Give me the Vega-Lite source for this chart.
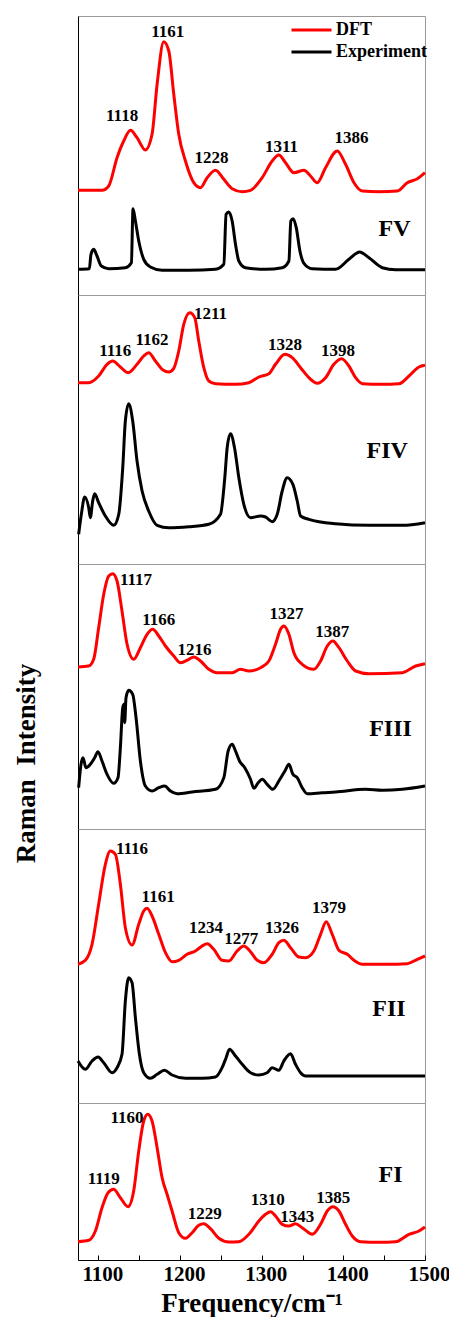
{
  "$schema": "https://vega.github.io/schema/vega-lite/v6.json",
  "background": "white",
  "padding": {"left": 11, "top": 15, "right": 0, "bottom": 0},
  "autosize": {"type": "pad"},
  "spacing": 0,
  "bounds": "flush",
  "config": {
    "view": {"stroke": "#9a9a9a", "strokeWidth": 1},
    "font": "Liberation Serif",
    "axis": {"grid": false}
  },
  "resolve": {"legend": {"color": "independent"}},
  "datasets": {
    "curves": [
      {"panel":"FV","series":"DFT","freq":1075,"intensity":104.7},{"panel":"FV","series":"DFT","freq":1104.4,"intensity":104.7},{"panel":"FV","series":"DFT","freq":1112.6,"intensity":109},{"panel":"FV","series":"DFT","freq":1122.8,"intensity":137.3},{"panel":"FV","series":"DFT","freq":1131,"intensity":154},{"panel":"FV","series":"DFT","freq":1139.2,"intensity":164.7},{"panel":"FV","series":"DFT","freq":1147.3,"intensity":157.3},{"panel":"FV","series":"DFT","freq":1157.5,"intensity":145},{"panel":"FV","series":"DFT","freq":1165.7,"intensity":160.7},{"panel":"FV","series":"DFT","freq":1171.9,"intensity":210.7},{"panel":"FV","series":"DFT","freq":1180,"intensity":253.3},{"panel":"FV","series":"DFT","freq":1186.2,"intensity":244},{"panel":"FV","series":"DFT","freq":1192.3,"intensity":200.7},{"panel":"FV","series":"DFT","freq":1198.4,"intensity":160.7},{"panel":"FV","series":"DFT","freq":1206.6,"intensity":134},{"panel":"FV","series":"DFT","freq":1216.8,"intensity":112.3},{"panel":"FV","series":"DFT","freq":1225,"intensity":107.3},{"panel":"FV","series":"DFT","freq":1233.2,"intensity":117.3},{"panel":"FV","series":"DFT","freq":1243.4,"intensity":124.7},{"panel":"FV","series":"DFT","freq":1253.6,"intensity":115.7},{"panel":"FV","series":"DFT","freq":1263.8,"intensity":106.3},{"panel":"FV","series":"DFT","freq":1276.1,"intensity":103.3},{"panel":"FV","series":"DFT","freq":1286.3,"intensity":104.7},{"panel":"FV","series":"DFT","freq":1300.6,"intensity":117.3},{"panel":"FV","series":"DFT","freq":1312.8,"intensity":134},{"panel":"FV","series":"DFT","freq":1321,"intensity":140},{"panel":"FV","series":"DFT","freq":1329.2,"intensity":132.3},{"panel":"FV","series":"DFT","freq":1339.4,"intensity":122.3},{"panel":"FV","series":"DFT","freq":1351.7,"intensity":124.7},{"panel":"FV","series":"DFT","freq":1359.8,"intensity":119},{"panel":"FV","series":"DFT","freq":1368,"intensity":112.3},{"panel":"FV","series":"DFT","freq":1378.2,"intensity":127.3},{"panel":"FV","series":"DFT","freq":1392.5,"intensity":144},{"panel":"FV","series":"DFT","freq":1402.7,"intensity":130.7},{"panel":"FV","series":"DFT","freq":1413,"intensity":112.3},{"panel":"FV","series":"DFT","freq":1423.2,"intensity":104},{"panel":"FV","series":"DFT","freq":1443.6,"intensity":103.3},{"panel":"FV","series":"DFT","freq":1466.1,"intensity":104},{"panel":"FV","series":"DFT","freq":1478.3,"intensity":112.3},{"panel":"FV","series":"DFT","freq":1490.6,"intensity":116.3},{"panel":"FV","series":"DFT","freq":1500,"intensity":122.3},
      {"panel":"FV","series":"Experiment","freq":1075,"intensity":25.7},{"panel":"FV","series":"Experiment","freq":1088.9,"intensity":26.3},{"panel":"FV","series":"Experiment","freq":1090.9,"intensity":40.7},{"panel":"FV","series":"Experiment","freq":1094.2,"intensity":45.7},{"panel":"FV","series":"Experiment","freq":1098.3,"intensity":39},{"panel":"FV","series":"Experiment","freq":1103.6,"intensity":29},{"panel":"FV","series":"Experiment","freq":1112.6,"intensity":26.3},{"panel":"FV","series":"Experiment","freq":1133,"intensity":27.3},{"panel":"FV","series":"Experiment","freq":1140.4,"intensity":32.3},{"panel":"FV","series":"Experiment","freq":1142.4,"intensity":86.3},{"panel":"FV","series":"Experiment","freq":1145.3,"intensity":74},{"panel":"FV","series":"Experiment","freq":1149.4,"intensity":54},{"panel":"FV","series":"Experiment","freq":1155.5,"intensity":35.7},{"panel":"FV","series":"Experiment","freq":1163.7,"intensity":28},{"panel":"FV","series":"Experiment","freq":1178,"intensity":24.7},{"panel":"FV","series":"Experiment","freq":1210.7,"intensity":24.7},{"panel":"FV","series":"Experiment","freq":1243.4,"intensity":25.7},{"panel":"FV","series":"Experiment","freq":1253.6,"intensity":30.7},{"panel":"FV","series":"Experiment","freq":1256.4,"intensity":80.7},{"panel":"FV","series":"Experiment","freq":1259.7,"intensity":83},{"panel":"FV","series":"Experiment","freq":1263.8,"intensity":74},{"panel":"FV","series":"Experiment","freq":1267.9,"intensity":50.7},{"panel":"FV","series":"Experiment","freq":1272,"intensity":34},{"panel":"FV","series":"Experiment","freq":1280.1,"intensity":27.3},{"panel":"FV","series":"Experiment","freq":1304.7,"intensity":25.7},{"panel":"FV","series":"Experiment","freq":1325.1,"intensity":27.3},{"panel":"FV","series":"Experiment","freq":1333.3,"intensity":34},{"panel":"FV","series":"Experiment","freq":1335.7,"intensity":74},{"panel":"FV","series":"Experiment","freq":1338.6,"intensity":76.3},{"panel":"FV","series":"Experiment","freq":1342.3,"intensity":67.3},{"panel":"FV","series":"Experiment","freq":1346.8,"intensity":44},{"panel":"FV","series":"Experiment","freq":1351.7,"intensity":31.7},{"panel":"FV","series":"Experiment","freq":1361.9,"intensity":26.3},{"panel":"FV","series":"Experiment","freq":1390.5,"intensity":25.7},{"panel":"FV","series":"Experiment","freq":1406.8,"intensity":35.7},{"panel":"FV","series":"Experiment","freq":1419.9,"intensity":43},{"panel":"FV","series":"Experiment","freq":1431.4,"intensity":37.3},{"panel":"FV","series":"Experiment","freq":1447.7,"intensity":27.3},{"panel":"FV","series":"Experiment","freq":1464,"intensity":25.3},{"panel":"FV","series":"Experiment","freq":1500,"intensity":25.3},
      {"panel":"FIV","series":"DFT","freq":1075,"intensity":181.3},{"panel":"FIV","series":"DFT","freq":1088.1,"intensity":181.3},{"panel":"FIV","series":"DFT","freq":1100.3,"intensity":188},{"panel":"FIV","series":"DFT","freq":1110.6,"intensity":199.7},{"panel":"FIV","series":"DFT","freq":1117.5,"intensity":203},{"panel":"FIV","series":"DFT","freq":1126.9,"intensity":197},{"panel":"FIV","series":"DFT","freq":1136.3,"intensity":191.3},{"panel":"FIV","series":"DFT","freq":1147.3,"intensity":199.7},{"panel":"FIV","series":"DFT","freq":1155.5,"intensity":208},{"panel":"FIV","series":"DFT","freq":1161.6,"intensity":211.3},{"panel":"FIV","series":"DFT","freq":1169.8,"intensity":203},{"panel":"FIV","series":"DFT","freq":1178,"intensity":194.7},{"panel":"FIV","series":"DFT","freq":1186.2,"intensity":192},{"panel":"FIV","series":"DFT","freq":1192.3,"intensity":195.7},{"panel":"FIV","series":"DFT","freq":1198.4,"intensity":213},{"panel":"FIV","series":"DFT","freq":1204.5,"intensity":239.7},{"panel":"FIV","series":"DFT","freq":1211.9,"intensity":251.3},{"panel":"FIV","series":"DFT","freq":1218,"intensity":246.3},{"panel":"FIV","series":"DFT","freq":1222.9,"intensity":223},{"panel":"FIV","series":"DFT","freq":1229.1,"intensity":196.3},{"panel":"FIV","series":"DFT","freq":1235.2,"intensity":183},{"panel":"FIV","series":"DFT","freq":1243.4,"intensity":180.3},{"panel":"FIV","series":"DFT","freq":1267.9,"intensity":179.7},{"panel":"FIV","series":"DFT","freq":1284.2,"intensity":181.3},{"panel":"FIV","series":"DFT","freq":1296.5,"intensity":187},{"panel":"FIV","series":"DFT","freq":1308.8,"intensity":190.3},{"panel":"FIV","series":"DFT","freq":1316.9,"intensity":199.7},{"panel":"FIV","series":"DFT","freq":1328.4,"intensity":209.7},{"panel":"FIV","series":"DFT","freq":1337.4,"intensity":206.3},{"panel":"FIV","series":"DFT","freq":1347.6,"intensity":196.3},{"panel":"FIV","series":"DFT","freq":1357.8,"intensity":186.3},{"panel":"FIV","series":"DFT","freq":1368,"intensity":180.7},{"panel":"FIV","series":"DFT","freq":1378.2,"intensity":186.3},{"panel":"FIV","series":"DFT","freq":1388.4,"intensity":199.7},{"panel":"FIV","series":"DFT","freq":1397.8,"intensity":205.3},{"panel":"FIV","series":"DFT","freq":1406.8,"intensity":198},{"panel":"FIV","series":"DFT","freq":1415,"intensity":186.3},{"panel":"FIV","series":"DFT","freq":1423.2,"intensity":180.3},{"panel":"FIV","series":"DFT","freq":1447.7,"intensity":179.7},{"panel":"FIV","series":"DFT","freq":1468.1,"intensity":180.3},{"panel":"FIV","series":"DFT","freq":1480.4,"intensity":188},{"panel":"FIV","series":"DFT","freq":1492.6,"intensity":197},{"panel":"FIV","series":"DFT","freq":1500,"intensity":198.7},
      {"panel":"FIV","series":"Experiment","freq":1075.8,"intensity":29.7},{"panel":"FIV","series":"Experiment","freq":1079.1,"intensity":49.7},{"panel":"FIV","series":"Experiment","freq":1083.2,"intensity":67},{"panel":"FIV","series":"Experiment","freq":1088.1,"intensity":56.3},{"panel":"FIV","series":"Experiment","freq":1090.1,"intensity":46.3},{"panel":"FIV","series":"Experiment","freq":1093,"intensity":63},{"panel":"FIV","series":"Experiment","freq":1095.4,"intensity":70.3},{"panel":"FIV","series":"Experiment","freq":1100.3,"intensity":61.3},{"panel":"FIV","series":"Experiment","freq":1108.5,"intensity":48},{"panel":"FIV","series":"Experiment","freq":1118.7,"intensity":38.7},{"panel":"FIV","series":"Experiment","freq":1124.9,"intensity":49.7},{"panel":"FIV","series":"Experiment","freq":1129.8,"intensity":96.3},{"panel":"FIV","series":"Experiment","freq":1133,"intensity":143},{"panel":"FIV","series":"Experiment","freq":1137.1,"intensity":160.3},{"panel":"FIV","series":"Experiment","freq":1142,"intensity":143},{"panel":"FIV","series":"Experiment","freq":1147.3,"intensity":103},{"panel":"FIV","series":"Experiment","freq":1153.5,"intensity":73},{"panel":"FIV","series":"Experiment","freq":1161.6,"intensity":53},{"panel":"FIV","series":"Experiment","freq":1171.9,"intensity":38.7},{"panel":"FIV","series":"Experiment","freq":1186.2,"intensity":36.3},{"panel":"FIV","series":"Experiment","freq":1210.7,"intensity":37.3},{"panel":"FIV","series":"Experiment","freq":1235.2,"intensity":39.7},{"panel":"FIV","series":"Experiment","freq":1249.5,"intensity":49.7},{"panel":"FIV","series":"Experiment","freq":1254.8,"intensity":86.3},{"panel":"FIV","series":"Experiment","freq":1257.7,"intensity":116.3},{"panel":"FIV","series":"Experiment","freq":1261.8,"intensity":130.3},{"panel":"FIV","series":"Experiment","freq":1266.7,"intensity":116.3},{"panel":"FIV","series":"Experiment","freq":1272,"intensity":86.3},{"panel":"FIV","series":"Experiment","freq":1278.1,"intensity":59.7},{"panel":"FIV","series":"Experiment","freq":1286.3,"intensity":46.3},{"panel":"FIV","series":"Experiment","freq":1298.5,"intensity":48},{"panel":"FIV","series":"Experiment","freq":1304.7,"intensity":47},{"panel":"FIV","series":"Experiment","freq":1312.8,"intensity":42.3},{"panel":"FIV","series":"Experiment","freq":1319,"intensity":49.7},{"panel":"FIV","series":"Experiment","freq":1325.1,"intensity":73},{"panel":"FIV","series":"Experiment","freq":1331.2,"intensity":86.3},{"panel":"FIV","series":"Experiment","freq":1338.2,"intensity":79.7},{"panel":"FIV","series":"Experiment","freq":1343.5,"intensity":63},{"panel":"FIV","series":"Experiment","freq":1347.6,"intensity":48},{"panel":"FIV","series":"Experiment","freq":1357.8,"intensity":44.7},{"panel":"FIV","series":"Experiment","freq":1390.5,"intensity":40.3},{"panel":"FIV","series":"Experiment","freq":1431.4,"intensity":38.7},{"panel":"FIV","series":"Experiment","freq":1472.2,"intensity":38.7},{"panel":"FIV","series":"Experiment","freq":1500,"intensity":41.3},
      {"panel":"FIII","series":"DFT","freq":1075,"intensity":162},{"panel":"FIII","series":"DFT","freq":1088.1,"intensity":163},{"panel":"FIII","series":"DFT","freq":1094.2,"intensity":169.7},{"panel":"FIII","series":"DFT","freq":1100.3,"intensity":201.3},{"panel":"FIII","series":"DFT","freq":1106.5,"intensity":234.7},{"panel":"FIII","series":"DFT","freq":1112.6,"intensity":253},{"panel":"FIII","series":"DFT","freq":1117.5,"intensity":255.3},{"panel":"FIII","series":"DFT","freq":1122.8,"intensity":248},{"panel":"FIII","series":"DFT","freq":1128.9,"intensity":218},{"panel":"FIII","series":"DFT","freq":1135.1,"intensity":184.7},{"panel":"FIII","series":"DFT","freq":1143.2,"intensity":169.7},{"panel":"FIII","series":"DFT","freq":1151.4,"intensity":181.3},{"panel":"FIII","series":"DFT","freq":1159.6,"intensity":194.7},{"panel":"FIII","series":"DFT","freq":1166.5,"intensity":199.7},{"panel":"FIII","series":"DFT","freq":1173.9,"intensity":193},{"panel":"FIII","series":"DFT","freq":1182.1,"intensity":183},{"panel":"FIII","series":"DFT","freq":1192.3,"intensity":173},{"panel":"FIII","series":"DFT","freq":1200.5,"intensity":166.3},{"panel":"FIII","series":"DFT","freq":1210.7,"intensity":169.7},{"panel":"FIII","series":"DFT","freq":1216.8,"intensity":172},{"panel":"FIII","series":"DFT","freq":1225,"intensity":168},{"panel":"FIII","series":"DFT","freq":1235.2,"intensity":159.7},{"panel":"FIII","series":"DFT","freq":1245.4,"intensity":156.3},{"panel":"FIII","series":"DFT","freq":1263.8,"intensity":156.3},{"panel":"FIII","series":"DFT","freq":1274,"intensity":159.7},{"panel":"FIII","series":"DFT","freq":1284.2,"intensity":158},{"panel":"FIII","series":"DFT","freq":1298.5,"intensity":161.3},{"panel":"FIII","series":"DFT","freq":1308.8,"intensity":168},{"panel":"FIII","series":"DFT","freq":1316.9,"intensity":184.7},{"panel":"FIII","series":"DFT","freq":1323.1,"intensity":199.7},{"panel":"FIII","series":"DFT","freq":1327.1,"intensity":203},{"panel":"FIII","series":"DFT","freq":1333.3,"intensity":194.7},{"panel":"FIII","series":"DFT","freq":1339.4,"intensity":176.3},{"panel":"FIII","series":"DFT","freq":1349.6,"intensity":164.7},{"panel":"FIII","series":"DFT","freq":1363.9,"intensity":159.7},{"panel":"FIII","series":"DFT","freq":1372.1,"intensity":168},{"panel":"FIII","series":"DFT","freq":1380.3,"intensity":183},{"panel":"FIII","series":"DFT","freq":1387.2,"intensity":188},{"panel":"FIII","series":"DFT","freq":1394.6,"intensity":181.3},{"panel":"FIII","series":"DFT","freq":1404.8,"intensity":168},{"panel":"FIII","series":"DFT","freq":1415,"intensity":158},{"panel":"FIII","series":"DFT","freq":1431.4,"intensity":155.3},{"panel":"FIII","series":"DFT","freq":1472.2,"intensity":156.3},{"panel":"FIII","series":"DFT","freq":1488.6,"intensity":163},{"panel":"FIII","series":"DFT","freq":1500,"intensity":165.3},
      {"panel":"FIII","series":"Experiment","freq":1075.8,"intensity":41.3},{"panel":"FIII","series":"Experiment","freq":1078.7,"intensity":64.7},{"panel":"FIII","series":"Experiment","freq":1081.1,"intensity":71.3},{"panel":"FIII","series":"Experiment","freq":1084.8,"intensity":61.3},{"panel":"FIII","series":"Experiment","freq":1090.1,"intensity":64.7},{"panel":"FIII","series":"Experiment","freq":1095.4,"intensity":71.3},{"panel":"FIII","series":"Experiment","freq":1099.5,"intensity":77.3},{"panel":"FIII","series":"Experiment","freq":1104.4,"intensity":68},{"panel":"FIII","series":"Experiment","freq":1110.6,"intensity":54.7},{"panel":"FIII","series":"Experiment","freq":1118.7,"intensity":45.7},{"panel":"FIII","series":"Experiment","freq":1124,"intensity":51.3},{"panel":"FIII","series":"Experiment","freq":1126.9,"intensity":81.3},{"panel":"FIII","series":"Experiment","freq":1129.8,"intensity":121.3},{"panel":"FIII","series":"Experiment","freq":1131.4,"intensity":124.7},{"panel":"FIII","series":"Experiment","freq":1132.2,"intensity":106.3},{"panel":"FIII","series":"Experiment","freq":1133.8,"intensity":131.3},{"panel":"FIII","series":"Experiment","freq":1137.1,"intensity":138.7},{"panel":"FIII","series":"Experiment","freq":1142,"intensity":134.7},{"panel":"FIII","series":"Experiment","freq":1146.1,"intensity":111.3},{"panel":"FIII","series":"Experiment","freq":1151.4,"intensity":68},{"panel":"FIII","series":"Experiment","freq":1157.5,"intensity":43},{"panel":"FIII","series":"Experiment","freq":1165.7,"intensity":38},{"panel":"FIII","series":"Experiment","freq":1173.9,"intensity":41.3},{"panel":"FIII","series":"Experiment","freq":1181.3,"intensity":43},{"panel":"FIII","series":"Experiment","freq":1188.2,"intensity":38},{"panel":"FIII","series":"Experiment","freq":1196.4,"intensity":35.3},{"panel":"FIII","series":"Experiment","freq":1214.8,"intensity":37},{"panel":"FIII","series":"Experiment","freq":1243.4,"intensity":39.7},{"panel":"FIII","series":"Experiment","freq":1253.6,"intensity":51.3},{"panel":"FIII","series":"Experiment","freq":1258.9,"intensity":78},{"panel":"FIII","series":"Experiment","freq":1263.8,"intensity":84.7},{"panel":"FIII","series":"Experiment","freq":1267.9,"intensity":78},{"panel":"FIII","series":"Experiment","freq":1272.8,"intensity":68},{"panel":"FIII","series":"Experiment","freq":1279.3,"intensity":61.3},{"panel":"FIII","series":"Experiment","freq":1286.3,"intensity":49.7},{"panel":"FIII","series":"Experiment","freq":1290.4,"intensity":40.7},{"panel":"FIII","series":"Experiment","freq":1295.7,"intensity":46.3},{"panel":"FIII","series":"Experiment","freq":1300.6,"intensity":49.7},{"panel":"FIII","series":"Experiment","freq":1306.7,"intensity":44.7},{"panel":"FIII","series":"Experiment","freq":1313.7,"intensity":39.7},{"panel":"FIII","series":"Experiment","freq":1321,"intensity":48},{"panel":"FIII","series":"Experiment","freq":1328.4,"intensity":58},{"panel":"FIII","series":"Experiment","freq":1333.3,"intensity":64.7},{"panel":"FIII","series":"Experiment","freq":1338.2,"intensity":54.7},{"panel":"FIII","series":"Experiment","freq":1343.5,"intensity":51.3},{"panel":"FIII","series":"Experiment","freq":1349.6,"intensity":41.3},{"panel":"FIII","series":"Experiment","freq":1355.7,"intensity":35.3},{"panel":"FIII","series":"Experiment","freq":1374.1,"intensity":36.3},{"panel":"FIII","series":"Experiment","freq":1390.5,"intensity":37},{"panel":"FIII","series":"Experiment","freq":1427.3,"intensity":39.7},{"panel":"FIII","series":"Experiment","freq":1447.7,"intensity":38.7},{"panel":"FIII","series":"Experiment","freq":1472.2,"intensity":39.7},{"panel":"FIII","series":"Experiment","freq":1500,"intensity":43},
      {"panel":"FII","series":"DFT","freq":1075,"intensity":138.7},{"panel":"FII","series":"DFT","freq":1084,"intensity":142.7},{"panel":"FII","series":"DFT","freq":1092.2,"intensity":158.7},{"panel":"FII","series":"DFT","freq":1100.3,"intensity":198.7},{"panel":"FII","series":"DFT","freq":1108.5,"intensity":238.7},{"panel":"FII","series":"DFT","freq":1114.6,"intensity":252},{"panel":"FII","series":"DFT","freq":1120.8,"intensity":248.7},{"panel":"FII","series":"DFT","freq":1126.9,"intensity":218.7},{"panel":"FII","series":"DFT","freq":1133,"intensity":175.3},{"panel":"FII","series":"DFT","freq":1141.2,"intensity":158},{"panel":"FII","series":"DFT","freq":1149.4,"intensity":178.7},{"panel":"FII","series":"DFT","freq":1155.5,"intensity":192},{"panel":"FII","series":"DFT","freq":1159.6,"intensity":194.7},{"panel":"FII","series":"DFT","freq":1165.7,"intensity":187},{"panel":"FII","series":"DFT","freq":1173.9,"intensity":168.7},{"panel":"FII","series":"DFT","freq":1182.1,"intensity":150.3},{"panel":"FII","series":"DFT","freq":1190.2,"intensity":141.3},{"panel":"FII","series":"DFT","freq":1198.4,"intensity":142.7},{"panel":"FII","series":"DFT","freq":1208.6,"intensity":148.7},{"panel":"FII","series":"DFT","freq":1218.8,"intensity":152},{"panel":"FII","series":"DFT","freq":1227,"intensity":157},{"panel":"FII","series":"DFT","freq":1233.2,"intensity":159.3},{"panel":"FII","series":"DFT","freq":1241.3,"intensity":153.7},{"panel":"FII","series":"DFT","freq":1251.5,"intensity":142.7},{"panel":"FII","series":"DFT","freq":1259.7,"intensity":142},{"panel":"FII","series":"DFT","freq":1269.9,"intensity":152},{"panel":"FII","series":"DFT","freq":1278.1,"intensity":157},{"panel":"FII","series":"DFT","freq":1286.3,"intensity":151.3},{"panel":"FII","series":"DFT","freq":1294.5,"intensity":142.7},{"panel":"FII","series":"DFT","freq":1302.6,"intensity":140.3},{"panel":"FII","series":"DFT","freq":1312.8,"intensity":148.7},{"panel":"FII","series":"DFT","freq":1321,"intensity":160.3},{"panel":"FII","series":"DFT","freq":1327.1,"intensity":162.7},{"panel":"FII","series":"DFT","freq":1335.3,"intensity":155.3},{"panel":"FII","series":"DFT","freq":1345.5,"intensity":146},{"panel":"FII","series":"DFT","freq":1353.7,"intensity":145.3},{"panel":"FII","series":"DFT","freq":1363.9,"intensity":152},{"panel":"FII","series":"DFT","freq":1372.1,"intensity":168.7},{"panel":"FII","series":"DFT","freq":1379,"intensity":181.3},{"panel":"FII","series":"DFT","freq":1386.4,"intensity":168.7},{"panel":"FII","series":"DFT","freq":1394.6,"intensity":152.7},{"panel":"FII","series":"DFT","freq":1404.8,"intensity":148.7},{"panel":"FII","series":"DFT","freq":1413,"intensity":142.7},{"panel":"FII","series":"DFT","freq":1423.2,"intensity":138.7},{"panel":"FII","series":"DFT","freq":1451.8,"intensity":138.7},{"panel":"FII","series":"DFT","freq":1478.3,"intensity":139.3},{"panel":"FII","series":"DFT","freq":1490.6,"intensity":143.7},{"panel":"FII","series":"DFT","freq":1500,"intensity":147},
      {"panel":"FII","series":"Experiment","freq":1075,"intensity":42},{"panel":"FII","series":"Experiment","freq":1084,"intensity":33.7},{"panel":"FII","series":"Experiment","freq":1092.2,"intensity":42},{"panel":"FII","series":"Experiment","freq":1099.5,"intensity":46},{"panel":"FII","series":"Experiment","freq":1106.5,"intensity":40.3},{"panel":"FII","series":"Experiment","freq":1116.7,"intensity":30.3},{"panel":"FII","series":"Experiment","freq":1122.8,"intensity":35.3},{"panel":"FII","series":"Experiment","freq":1128.9,"intensity":48.7},{"panel":"FII","series":"Experiment","freq":1133,"intensity":102},{"panel":"FII","series":"Experiment","freq":1137.1,"intensity":125.3},{"panel":"FII","series":"Experiment","freq":1141.2,"intensity":120.3},{"panel":"FII","series":"Experiment","freq":1145.3,"intensity":85.3},{"panel":"FII","series":"Experiment","freq":1150.2,"intensity":48.7},{"panel":"FII","series":"Experiment","freq":1155.5,"intensity":30.3},{"panel":"FII","series":"Experiment","freq":1163.7,"intensity":24.7},{"panel":"FII","series":"Experiment","freq":1171.9,"intensity":28.7},{"panel":"FII","series":"Experiment","freq":1180.8,"intensity":32.7},{"panel":"FII","series":"Experiment","freq":1190.2,"intensity":28},{"panel":"FII","series":"Experiment","freq":1206.6,"intensity":24.7},{"panel":"FII","series":"Experiment","freq":1227,"intensity":24.7},{"panel":"FII","series":"Experiment","freq":1243.4,"intensity":26},{"panel":"FII","series":"Experiment","freq":1251.5,"intensity":35.3},{"panel":"FII","series":"Experiment","freq":1256.4,"intensity":45.3},{"panel":"FII","series":"Experiment","freq":1260.5,"intensity":53.7},{"panel":"FII","series":"Experiment","freq":1267.9,"intensity":47},{"panel":"FII","series":"Experiment","freq":1276.1,"intensity":38.7},{"panel":"FII","series":"Experiment","freq":1286.3,"intensity":30.3},{"panel":"FII","series":"Experiment","freq":1296.5,"intensity":28},{"panel":"FII","series":"Experiment","freq":1306.7,"intensity":30.3},{"panel":"FII","series":"Experiment","freq":1312.8,"intensity":35.3},{"panel":"FII","series":"Experiment","freq":1321,"intensity":32.7},{"panel":"FII","series":"Experiment","freq":1327.1,"intensity":42},{"panel":"FII","series":"Experiment","freq":1335.3,"intensity":49.3},{"panel":"FII","series":"Experiment","freq":1341.4,"intensity":38.7},{"panel":"FII","series":"Experiment","freq":1347.6,"intensity":30.3},{"panel":"FII","series":"Experiment","freq":1353.7,"intensity":27},{"panel":"FII","series":"Experiment","freq":1366,"intensity":27},{"panel":"FII","series":"Experiment","freq":1500,"intensity":27},
      {"panel":"FI","series":"DFT","freq":1075,"intensity":18.3},{"panel":"FI","series":"DFT","freq":1088.1,"intensity":19.7},{"panel":"FI","series":"DFT","freq":1096.3,"intensity":29},{"panel":"FI","series":"DFT","freq":1104.4,"intensity":52.3},{"panel":"FI","series":"DFT","freq":1111.8,"intensity":67.3},{"panel":"FI","series":"DFT","freq":1118.7,"intensity":70.7},{"panel":"FI","series":"DFT","freq":1126.9,"intensity":62.3},{"panel":"FI","series":"DFT","freq":1136.3,"intensity":53.3},{"panel":"FI","series":"DFT","freq":1143.2,"intensity":69},{"panel":"FI","series":"DFT","freq":1149.4,"intensity":109},{"panel":"FI","series":"DFT","freq":1155.5,"intensity":139},{"panel":"FI","series":"DFT","freq":1160.4,"intensity":145.7},{"panel":"FI","series":"DFT","freq":1165.7,"intensity":139},{"panel":"FI","series":"DFT","freq":1171.9,"intensity":112.3},{"panel":"FI","series":"DFT","freq":1178,"intensity":82.3},{"panel":"FI","series":"DFT","freq":1184.1,"intensity":65.7},{"panel":"FI","series":"DFT","freq":1190.2,"intensity":49},{"panel":"FI","series":"DFT","freq":1198.4,"intensity":27.3},{"panel":"FI","series":"DFT","freq":1206.6,"intensity":21.7},{"panel":"FI","series":"DFT","freq":1214.8,"intensity":27.3},{"panel":"FI","series":"DFT","freq":1222.9,"intensity":34.7},{"panel":"FI","series":"DFT","freq":1229.1,"intensity":36.3},{"panel":"FI","series":"DFT","freq":1237.2,"intensity":31.3},{"panel":"FI","series":"DFT","freq":1247.5,"intensity":21.7},{"panel":"FI","series":"DFT","freq":1259.7,"intensity":18},{"panel":"FI","series":"DFT","freq":1272,"intensity":18.3},{"panel":"FI","series":"DFT","freq":1284.2,"intensity":25.7},{"panel":"FI","series":"DFT","freq":1296.5,"intensity":39},{"panel":"FI","series":"DFT","freq":1304.7,"intensity":45.7},{"panel":"FI","series":"DFT","freq":1310.8,"intensity":48.3},{"panel":"FI","series":"DFT","freq":1316.9,"intensity":44},{"panel":"FI","series":"DFT","freq":1325.1,"intensity":35.7},{"panel":"FI","series":"DFT","freq":1333.3,"intensity":34},{"panel":"FI","series":"DFT","freq":1341.4,"intensity":36.3},{"panel":"FI","series":"DFT","freq":1349.6,"intensity":32.3},{"panel":"FI","series":"DFT","freq":1361.9,"intensity":25.7},{"panel":"FI","series":"DFT","freq":1372.1,"intensity":35.7},{"panel":"FI","series":"DFT","freq":1380.3,"intensity":49},{"panel":"FI","series":"DFT","freq":1387.2,"intensity":53.3},{"panel":"FI","series":"DFT","freq":1394.6,"intensity":49},{"panel":"FI","series":"DFT","freq":1402.7,"intensity":35.7},{"panel":"FI","series":"DFT","freq":1410.9,"intensity":24},{"panel":"FI","series":"DFT","freq":1421.1,"intensity":18.3},{"panel":"FI","series":"DFT","freq":1443.6,"intensity":17.7},{"panel":"FI","series":"DFT","freq":1464,"intensity":18.3},{"panel":"FI","series":"DFT","freq":1480.4,"intensity":25.7},{"panel":"FI","series":"DFT","freq":1492.6,"intensity":29},{"panel":"FI","series":"DFT","freq":1500,"intensity":33}
    ],
    "labels": [
      {"panel":"FV","kind":"peak","text":"1161","freq":1185,"intensity":263},{"panel":"FV","kind":"peak","text":"1118","freq":1129,"intensity":179},{"panel":"FV","kind":"peak","text":"1228","freq":1238.4,"intensity":137.3},{"panel":"FV","kind":"peak","text":"1311","freq":1324.2,"intensity":148.3},{"panel":"FV","kind":"peak","text":"1386","freq":1410,"intensity":157.3},{"panel":"FV","kind":"sample","text":"FV","freq":1462.7,"intensity":65.7},
      {"panel":"FIV","kind":"peak","text":"1116","freq":1120.7,"intensity":213},{"panel":"FIV","kind":"peak","text":"1162","freq":1165.7,"intensity":224},{"panel":"FIV","kind":"peak","text":"1211","freq":1237.2,"intensity":250.3},{"panel":"FIV","kind":"peak","text":"1328","freq":1328.4,"intensity":219},{"panel":"FIV","kind":"peak","text":"1398","freq":1393.3,"intensity":213},{"panel":"FIV","kind":"sample","text":"FIV","freq":1453.8,"intensity":113},
      {"panel":"FIII","kind":"peak","text":"1117","freq":1146.1,"intensity":248.7},{"panel":"FIII","kind":"peak","text":"1166","freq":1173.9,"intensity":208.7},{"panel":"FIII","kind":"peak","text":"1216","freq":1217.6,"intensity":179},{"panel":"FIII","kind":"peak","text":"1327","freq":1330.3,"intensity":214.7},{"panel":"FIII","kind":"peak","text":"1387","freq":1386.3,"intensity":197},{"panel":"FIII","kind":"sample","text":"FIII","freq":1457.8,"intensity":99.7},
      {"panel":"FII","kind":"peak","text":"1116","freq":1141.2,"intensity":254.3},{"panel":"FII","kind":"peak","text":"1161","freq":1173.1,"intensity":206},{"panel":"FII","kind":"peak","text":"1234","freq":1231.9,"intensity":174.7},{"panel":"FII","kind":"peak","text":"1277","freq":1274.8,"intensity":163.7},{"panel":"FII","kind":"peak","text":"1326","freq":1325,"intensity":174.7},{"panel":"FII","kind":"peak","text":"1379","freq":1382.3,"intensity":194.7},{"panel":"FII","kind":"sample","text":"FII","freq":1455.8,"intensity":93.7},
      {"panel":"FI","kind":"peak","text":"1160","freq":1135.1,"intensity":142.3},{"panel":"FI","kind":"peak","text":"1119","freq":1106.5,"intensity":81.3},{"panel":"FI","kind":"peak","text":"1229","freq":1230.3,"intensity":45.7},{"panel":"FI","kind":"peak","text":"1310","freq":1307.5,"intensity":60},{"panel":"FI","kind":"peak","text":"1343","freq":1343.4,"intensity":43.3},{"panel":"FI","kind":"peak","text":"1385","freq":1387.6,"intensity":62.3},{"panel":"FI","kind":"sample","text":"FI","freq":1457.8,"intensity":85}
    ]
  },
  "vconcat": [
    {
      "width": 347, "height": 279,
      "layer": [
        {"data": {"name": "curves"}, "transform": [{"filter": "datum.panel == 'FV'"}],
         "mark": {"type": "line", "interpolate": "monotone", "strokeWidth": 3},
         "encoding": {
           "x": {"field": "freq", "type": "quantitative", "scale": {"domain": [1075, 1500], "nice": false, "zero": false}, "axis": null},
           "y": {"field": "intensity", "type": "quantitative", "scale": {"domain": [0, 279], "nice": false}, "axis": {"title": null, "labels": false, "ticks": false, "domainColor": "black", "grid": false}},
           "color": {"field": "series", "type": "nominal", "scale": {"domain": ["DFT", "Experiment"], "range": ["#ff0000", "#000000"]},
             "legend": {"orient": "none", "legendX": 212, "legendY": 4, "title": null, "symbolType": "stroke", "symbolSize": 1600, "symbolStrokeWidth": 3, "labelFont": "Liberation Serif", "labelFontWeight": "bold", "labelFontSize": 18, "labelColor": "black", "labelOffset": 3, "rowPadding": 2, "padding": 0, "clipHeight": 20}}
         }},
        {"data": {"name": "labels"}, "transform": [{"filter": "datum.panel == 'FV' && datum.kind == 'peak'"}],
         "mark": {"type": "text", "font": "Liberation Serif", "fontWeight": "bold", "fontSize": 17, "baseline": "middle", "align": "center", "color": "black"},
         "encoding": {"x": {"field": "freq", "type": "quantitative"}, "y": {"field": "intensity", "type": "quantitative"}, "text": {"field": "text"}}},
        {"data": {"name": "labels"}, "transform": [{"filter": "datum.panel == 'FV' && datum.kind == 'sample'"}],
         "mark": {"type": "text", "font": "Liberation Serif", "fontWeight": "bold", "fontSize": 24, "baseline": "middle", "align": "center", "color": "black"},
         "encoding": {"x": {"field": "freq", "type": "quantitative"}, "y": {"field": "intensity", "type": "quantitative"}, "text": {"field": "text"}}}
      ]
    },
    {
      "width": 347, "height": 269,
      "layer": [
        {"data": {"name": "curves"}, "transform": [{"filter": "datum.panel == 'FIV'"}],
         "mark": {"type": "line", "interpolate": "monotone", "strokeWidth": 3},
         "encoding": {
           "x": {"field": "freq", "type": "quantitative", "scale": {"domain": [1075, 1500], "nice": false, "zero": false}, "axis": null},
           "y": {"field": "intensity", "type": "quantitative", "scale": {"domain": [0, 269], "nice": false}, "axis": {"title": null, "labels": false, "ticks": false, "domainColor": "black", "grid": false}},
           "color": {"field": "series", "type": "nominal", "scale": {"domain": ["DFT", "Experiment"], "range": ["#ff0000", "#000000"]}, "legend": null}
         }},
        {"data": {"name": "labels"}, "transform": [{"filter": "datum.panel == 'FIV' && datum.kind == 'peak'"}],
         "mark": {"type": "text", "font": "Liberation Serif", "fontWeight": "bold", "fontSize": 17, "baseline": "middle", "align": "center", "color": "black"},
         "encoding": {"x": {"field": "freq", "type": "quantitative"}, "y": {"field": "intensity", "type": "quantitative"}, "text": {"field": "text"}}},
        {"data": {"name": "labels"}, "transform": [{"filter": "datum.panel == 'FIV' && datum.kind == 'sample'"}],
         "mark": {"type": "text", "font": "Liberation Serif", "fontWeight": "bold", "fontSize": 24, "baseline": "middle", "align": "center", "color": "black"},
         "encoding": {"x": {"field": "freq", "type": "quantitative"}, "y": {"field": "intensity", "type": "quantitative"}, "text": {"field": "text"}}}
      ]
    },
    {
      "width": 347, "height": 265,
      "layer": [
        {"data": {"name": "curves"}, "transform": [{"filter": "datum.panel == 'FIII'"}],
         "mark": {"type": "line", "interpolate": "monotone", "strokeWidth": 3},
         "encoding": {
           "x": {"field": "freq", "type": "quantitative", "scale": {"domain": [1075, 1500], "nice": false, "zero": false}, "axis": null},
           "y": {"field": "intensity", "type": "quantitative", "scale": {"domain": [0, 265], "nice": false}, "axis": {"title": "Raman\u00a0\u00a0Intensity", "titleX": -52, "titleY": 199, "titleAngle": 270, "titleBaseline": "middle", "titleAlign": "center", "titleFont": "Liberation Serif", "titleFontWeight": "bold", "titleFontSize": 27, "titleColor": "black", "labels": false, "ticks": false, "domainColor": "black", "grid": false}},
           "color": {"field": "series", "type": "nominal", "scale": {"domain": ["DFT", "Experiment"], "range": ["#ff0000", "#000000"]}, "legend": null}
         }},
        {"data": {"name": "labels"}, "transform": [{"filter": "datum.panel == 'FIII' && datum.kind == 'peak'"}],
         "mark": {"type": "text", "font": "Liberation Serif", "fontWeight": "bold", "fontSize": 17, "baseline": "middle", "align": "center", "color": "black"},
         "encoding": {"x": {"field": "freq", "type": "quantitative"}, "y": {"field": "intensity", "type": "quantitative"}, "text": {"field": "text"}}},
        {"data": {"name": "labels"}, "transform": [{"filter": "datum.panel == 'FIII' && datum.kind == 'sample'"}],
         "mark": {"type": "text", "font": "Liberation Serif", "fontWeight": "bold", "fontSize": 24, "baseline": "middle", "align": "center", "color": "black"},
         "encoding": {"x": {"field": "freq", "type": "quantitative"}, "y": {"field": "intensity", "type": "quantitative"}, "text": {"field": "text"}}}
      ]
    },
    {
      "width": 347, "height": 274,
      "layer": [
        {"data": {"name": "curves"}, "transform": [{"filter": "datum.panel == 'FII'"}],
         "mark": {"type": "line", "interpolate": "monotone", "strokeWidth": 3},
         "encoding": {
           "x": {"field": "freq", "type": "quantitative", "scale": {"domain": [1075, 1500], "nice": false, "zero": false}, "axis": null},
           "y": {"field": "intensity", "type": "quantitative", "scale": {"domain": [0, 274], "nice": false}, "axis": {"title": null, "labels": false, "ticks": false, "domainColor": "black", "grid": false}},
           "color": {"field": "series", "type": "nominal", "scale": {"domain": ["DFT", "Experiment"], "range": ["#ff0000", "#000000"]}, "legend": null}
         }},
        {"data": {"name": "labels"}, "transform": [{"filter": "datum.panel == 'FII' && datum.kind == 'peak'"}],
         "mark": {"type": "text", "font": "Liberation Serif", "fontWeight": "bold", "fontSize": 17, "baseline": "middle", "align": "center", "color": "black"},
         "encoding": {"x": {"field": "freq", "type": "quantitative"}, "y": {"field": "intensity", "type": "quantitative"}, "text": {"field": "text"}}},
        {"data": {"name": "labels"}, "transform": [{"filter": "datum.panel == 'FII' && datum.kind == 'sample'"}],
         "mark": {"type": "text", "font": "Liberation Serif", "fontWeight": "bold", "fontSize": 24, "baseline": "middle", "align": "center", "color": "black"},
         "encoding": {"x": {"field": "freq", "type": "quantitative"}, "y": {"field": "intensity", "type": "quantitative"}, "text": {"field": "text"}}}
      ]
    },
    {
      "width": 347, "height": 157,
      "layer": [
        {"data": {"name": "curves"}, "transform": [{"filter": "datum.panel == 'FI'"}],
         "mark": {"type": "line", "interpolate": "monotone", "strokeWidth": 3},
         "encoding": {
           "x": {"field": "freq", "type": "quantitative", "scale": {"domain": [1075, 1500], "nice": false, "zero": false},
             "axis": {"title": "Frequency/cm\u207b\u00b9", "values": [1100, 1150, 1200, 1250, 1300, 1350, 1400, 1450, 1500], "labelExpr": "datum.value % 100 == 0 ? datum.label : ''", "format": "d", "tickSize": -5, "tickColor": "black", "domainColor": "black", "labelFont": "Liberation Serif", "labelFontWeight": "bold", "labelFontSize": 21, "labelColor": "black", "labelFlush": false, "labelOverlap": false, "labelPadding": 8, "labelOffset": 4, "titleFont": "Liberation Serif", "titleFontWeight": "bold", "titleFontSize": 27, "titleColor": "black", "titlePadding": 6}},
           "y": {"field": "intensity", "type": "quantitative", "scale": {"domain": [0, 157], "nice": false}, "axis": {"title": null, "labels": false, "ticks": false, "domainColor": "black", "grid": false}},
           "color": {"field": "series", "type": "nominal", "scale": {"domain": ["DFT", "Experiment"], "range": ["#ff0000", "#000000"]}, "legend": null}
         }},
        {"data": {"name": "labels"}, "transform": [{"filter": "datum.panel == 'FI' && datum.kind == 'peak'"}],
         "mark": {"type": "text", "font": "Liberation Serif", "fontWeight": "bold", "fontSize": 17, "baseline": "middle", "align": "center", "color": "black"},
         "encoding": {"x": {"field": "freq", "type": "quantitative"}, "y": {"field": "intensity", "type": "quantitative"}, "text": {"field": "text"}}},
        {"data": {"name": "labels"}, "transform": [{"filter": "datum.panel == 'FI' && datum.kind == 'sample'"}],
         "mark": {"type": "text", "font": "Liberation Serif", "fontWeight": "bold", "fontSize": 24, "baseline": "middle", "align": "center", "color": "black"},
         "encoding": {"x": {"field": "freq", "type": "quantitative"}, "y": {"field": "intensity", "type": "quantitative"}, "text": {"field": "text"}}}
      ]
    }
  ]
}
